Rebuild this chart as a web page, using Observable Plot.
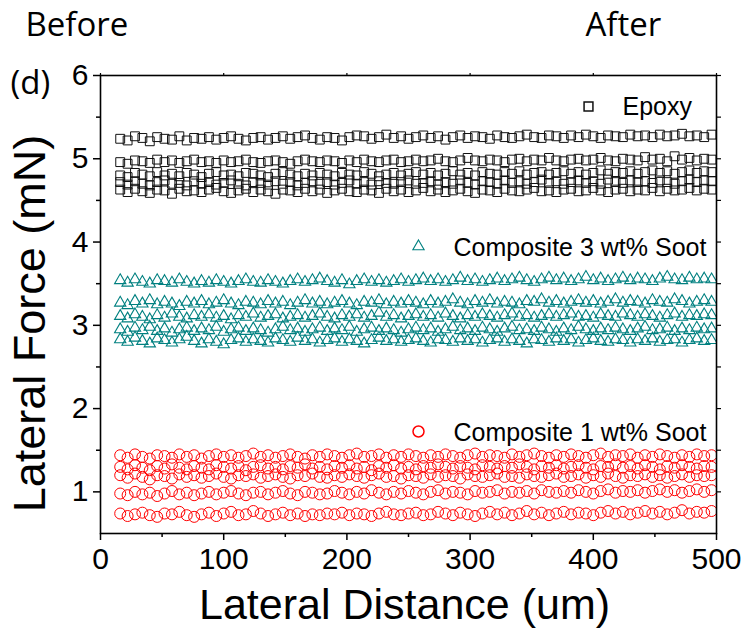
<!DOCTYPE html>
<html>
<head>
<meta charset="utf-8">
<script src="https://cdn.jsdelivr.net/npm/d3@7"></script>
<script src="https://cdn.jsdelivr.net/npm/@observablehq/plot@0.6"></script>
<style>
  html, body { margin: 0; padding: 0; background: white; }
</style>
</head>
<body>
<div id="chart"></div>
<script>
// Lateral distance sampling positions (um)
const distance = [
16,22,28,34,40,46,52,58,64,70,
76,82,88,94,100,106,112,118,124,130,
136,142,148,154,160,166,172,178,184,190,
196,202,208,214,220,226,232,238,244,250,
256,262,268,274,280,286,292,298,304,310,
316,322,328,334,340,346,352,358,364,370,
376,382,388,394,400,406,412,418,424,430,
436,442,448,454,460,466,472,478,484,490,
496];

// Epoxy scratch passes (mN)
const epoxy1 = [
5.24,5.22,5.27,5.25,5.21,5.26,5.24,5.23,5.27,5.22,
5.25,5.24,5.26,5.23,5.25,5.27,5.24,5.22,5.25,5.26,
5.23,5.25,5.27,5.24,5.26,5.28,5.25,5.23,5.26,5.25,
5.22,5.26,5.28,5.27,5.24,5.26,5.29,5.25,5.27,5.24,
5.26,5.28,5.25,5.27,5.23,5.26,5.28,5.25,5.27,5.26,
5.24,5.28,5.26,5.25,5.27,5.29,5.26,5.25,5.28,5.27,
5.25,5.28,5.26,5.29,5.27,5.25,5.28,5.27,5.26,5.29,
5.27,5.28,5.26,5.29,5.27,5.28,5.30,5.27,5.28,5.26,
5.29];
const epoxy2 = [
4.96,4.94,4.98,4.97,4.95,4.99,4.96,4.98,4.95,4.97,
4.99,4.96,4.97,4.95,4.98,4.96,4.97,4.99,4.96,4.95,
4.97,4.98,4.96,4.94,4.97,4.99,4.97,4.96,4.98,4.97,
4.95,4.98,4.96,4.99,4.97,4.96,4.98,4.99,4.96,4.97,
4.99,4.97,4.98,5.00,4.97,4.96,4.98,5.01,4.98,4.97,
4.99,4.98,4.96,4.99,5.00,4.97,4.99,4.98,5.01,4.98,
4.97,4.99,5.00,4.98,4.99,5.01,4.98,4.97,5.00,4.99,
4.98,5.02,4.99,5.00,4.97,5.03,4.99,5.01,4.98,5.00,
4.99];
const epoxy3 = [
4.80,4.78,4.83,4.81,4.79,4.84,4.80,4.82,4.79,4.83,
4.81,4.78,4.82,4.84,4.80,4.81,4.79,4.83,4.82,4.80,
4.78,4.82,4.84,4.81,4.79,4.82,4.80,4.83,4.81,4.79,
4.83,4.81,4.80,4.84,4.82,4.79,4.81,4.83,4.80,4.82,
4.84,4.81,4.83,4.80,4.82,4.85,4.81,4.83,4.80,4.84,
4.82,4.81,4.84,4.82,4.85,4.81,4.83,4.84,4.81,4.83,
4.85,4.82,4.84,4.81,4.83,4.86,4.82,4.84,4.83,4.85,
4.82,4.84,4.86,4.83,4.85,4.82,4.84,4.86,4.83,4.85,
4.84];
const epoxy4 = [
4.72,4.69,4.73,4.70,4.68,4.72,4.74,4.70,4.71,4.68,
4.73,4.70,4.72,4.69,4.71,4.74,4.70,4.68,4.72,4.71,
4.69,4.73,4.70,4.72,4.68,4.71,4.73,4.70,4.72,4.69,
4.71,4.74,4.70,4.72,4.69,4.73,4.71,4.70,4.72,4.74,
4.70,4.71,4.73,4.69,4.72,4.70,4.74,4.71,4.69,4.73,
4.72,4.70,4.74,4.71,4.73,4.70,4.72,4.75,4.71,4.73,
4.70,4.72,4.74,4.71,4.73,4.70,4.75,4.72,4.71,4.74,
4.72,4.73,4.71,4.74,4.72,4.70,4.73,4.75,4.72,4.74,
4.73];
const epoxy5 = [
4.63,4.60,4.64,4.61,4.59,4.63,4.62,4.58,4.64,4.61,
4.62,4.60,4.63,4.65,4.61,4.59,4.62,4.64,4.60,4.63,
4.61,4.58,4.63,4.62,4.60,4.64,4.61,4.63,4.59,4.62,
4.64,4.61,4.60,4.63,4.62,4.59,4.64,4.61,4.63,4.60,
4.62,4.65,4.61,4.63,4.60,4.62,4.64,4.61,4.59,4.63,
4.62,4.60,4.64,4.62,4.61,4.63,4.65,4.61,4.62,4.60,
4.63,4.64,4.61,4.62,4.65,4.62,4.60,4.63,4.64,4.61,
4.63,4.62,4.65,4.61,4.64,4.62,4.63,4.65,4.62,4.64,
4.63];

// Composite 3 wt% soot passes (mN)
const soot3a = [
3.54,3.51,3.55,3.52,3.50,3.54,3.53,3.51,3.55,3.52,
3.50,3.53,3.51,3.54,3.52,3.50,3.53,3.55,3.52,3.51,
3.54,3.52,3.50,3.53,3.55,3.52,3.54,3.56,3.53,3.51,
3.54,3.49,3.53,3.55,3.52,3.54,3.51,3.53,3.55,3.52,
3.54,3.56,3.53,3.55,3.52,3.54,3.57,3.53,3.55,3.52,
3.54,3.56,3.53,3.55,3.57,3.54,3.52,3.55,3.57,3.54,
3.56,3.53,3.55,3.58,3.54,3.56,3.53,3.55,3.57,3.54,
3.56,3.55,3.53,3.56,3.58,3.55,3.54,3.57,3.55,3.56,
3.55];
const soot3b = [
3.27,3.24,3.29,3.26,3.30,3.25,3.28,3.26,3.23,3.28,
3.26,3.29,3.25,3.27,3.30,3.26,3.24,3.28,3.27,3.25,
3.29,3.26,3.28,3.24,3.27,3.30,3.26,3.28,3.25,3.27,
3.29,3.26,3.24,3.28,3.27,3.30,3.25,3.28,3.26,3.29,
3.27,3.25,3.29,3.26,3.28,3.31,3.27,3.25,3.29,3.27,
3.30,3.26,3.28,3.27,3.25,3.29,3.28,3.31,3.27,3.29,
3.26,3.28,3.30,3.27,3.29,3.26,3.28,3.31,3.27,3.29,
3.28,3.26,3.30,3.28,3.27,3.31,3.29,3.26,3.28,3.30,
3.28];
const soot3c = [
3.11,3.08,3.13,3.10,3.07,3.12,3.09,3.14,3.10,3.08,
3.12,3.10,3.13,3.09,3.11,3.07,3.12,3.10,3.14,3.09,
3.11,3.13,3.08,3.10,3.12,3.09,3.11,3.14,3.10,3.08,
3.12,3.10,3.13,3.09,3.11,3.15,3.10,3.12,3.08,3.11,
3.13,3.10,3.12,3.09,3.14,3.11,3.08,3.12,3.10,3.13,
3.11,3.09,3.12,3.14,3.10,3.12,3.09,3.11,3.13,3.10,
3.12,3.14,3.10,3.11,3.09,3.13,3.11,3.10,3.14,3.12,
3.10,3.13,3.11,3.09,3.12,3.14,3.10,3.12,3.11,3.13,
3.12];
const soot3d = [
2.95,2.92,2.97,2.94,2.98,2.93,2.96,2.91,2.95,2.97,
2.93,2.96,2.94,2.98,2.92,2.95,2.97,2.93,2.96,2.94,
2.91,2.95,2.98,2.94,2.96,2.92,2.95,2.97,2.93,2.96,
2.94,2.98,2.92,2.95,2.97,2.93,2.96,2.94,2.91,2.95,
2.97,2.94,2.96,2.92,2.95,2.98,2.94,2.96,2.93,2.97,
2.95,2.92,2.96,2.98,2.94,2.95,2.93,2.97,2.95,2.92,
2.96,2.94,2.98,2.95,2.93,2.96,2.94,2.97,2.95,2.93,
2.96,2.98,2.94,2.95,2.97,2.93,2.96,2.94,2.97,2.95,
2.96];
const soot3e = [
2.83,2.80,2.85,2.81,2.78,2.84,2.82,2.79,2.83,2.86,
2.81,2.78,2.83,2.80,2.77,2.82,2.84,2.80,2.83,2.81,
2.79,2.84,2.82,2.80,2.85,2.81,2.83,2.79,2.82,2.84,
2.80,2.83,2.81,2.78,2.82,2.85,2.81,2.83,2.80,2.82,
2.84,2.81,2.79,2.83,2.82,2.80,2.84,2.81,2.83,2.79,
2.82,2.84,2.80,2.83,2.81,2.78,2.83,2.82,2.80,2.84,
2.81,2.83,2.79,2.82,2.84,2.81,2.80,2.83,2.82,2.79,
2.83,2.81,2.84,2.80,2.82,2.83,2.79,2.82,2.84,2.81,
2.82];

// Composite 1 wt% soot passes (mN)
const soot1a = [
1.44,1.41,1.45,1.42,1.40,1.44,1.43,1.41,1.45,1.42,
1.44,1.40,1.43,1.45,1.42,1.44,1.41,1.43,1.46,1.42,
1.44,1.41,1.43,1.45,1.42,1.40,1.44,1.42,1.45,1.43,
1.41,1.44,1.46,1.42,1.43,1.45,1.41,1.44,1.42,1.45,
1.43,1.41,1.44,1.42,1.45,1.43,1.41,1.44,1.46,1.42,
1.44,1.43,1.41,1.45,1.42,1.44,1.46,1.43,1.41,1.44,
1.42,1.45,1.43,1.41,1.44,1.46,1.42,1.44,1.43,1.45,
1.41,1.44,1.42,1.45,1.43,1.41,1.44,1.42,1.45,1.43,
1.44];
const soot1b = [
1.30,1.27,1.32,1.29,1.26,1.31,1.28,1.33,1.29,1.27,
1.31,1.29,1.27,1.32,1.30,1.28,1.31,1.26,1.30,1.32,
1.28,1.30,1.27,1.31,1.29,1.33,1.28,1.30,1.27,1.31,
1.29,1.32,1.28,1.30,1.26,1.31,1.29,1.32,1.28,1.30,
1.27,1.31,1.29,1.33,1.30,1.28,1.31,1.29,1.27,1.32,
1.30,1.28,1.31,1.29,1.33,1.30,1.27,1.31,1.29,1.32,
1.28,1.30,1.32,1.29,1.27,1.31,1.30,1.33,1.29,1.31,
1.28,1.32,1.30,1.27,1.31,1.29,1.32,1.30,1.28,1.31,
1.30];
const soot1c = [
1.20,1.17,1.22,1.18,1.15,1.20,1.19,1.16,1.21,1.18,
1.20,1.17,1.19,1.22,1.18,1.16,1.20,1.19,1.21,1.17,
1.19,1.21,1.18,1.16,1.20,1.19,1.22,1.18,1.17,1.20,
1.18,1.21,1.19,1.17,1.20,1.22,1.18,1.19,1.16,1.20,
1.19,1.17,1.21,1.18,1.20,1.19,1.16,1.21,1.19,1.18,
1.20,1.22,1.18,1.19,1.17,1.21,1.19,1.18,1.20,1.22,
1.18,1.19,1.21,1.17,1.20,1.18,1.22,1.19,1.17,1.20,
1.19,1.21,1.18,1.20,1.17,1.19,1.21,1.18,1.20,1.19,
1.20];
const soot1d = [
0.98,0.96,1.00,0.97,0.99,0.95,0.98,1.01,0.97,0.99,
0.96,0.98,1.00,0.97,0.99,1.01,0.98,0.96,0.99,1.00,
0.97,0.99,1.01,0.98,0.96,1.00,0.99,0.97,0.98,1.01,
0.99,0.97,1.00,0.98,1.02,0.99,0.97,1.00,0.98,1.01,
0.99,0.97,1.00,1.02,0.98,1.00,0.99,0.97,1.01,0.99,
1.00,1.02,0.98,1.00,0.99,1.01,0.98,1.02,1.00,0.99,
1.01,0.99,1.02,1.00,0.98,1.01,1.03,0.99,1.01,1.00,
1.02,0.99,1.01,1.03,1.00,1.02,0.99,1.01,1.03,1.00,
1.02];
const soot1e = [
0.74,0.71,0.73,0.75,0.72,0.70,0.74,0.73,0.76,0.72,
0.70,0.73,0.75,0.71,0.74,0.76,0.72,0.73,0.77,0.74,
0.71,0.73,0.75,0.72,0.74,0.71,0.73,0.72,0.74,0.73,
0.75,0.72,0.74,0.73,0.71,0.74,0.76,0.73,0.72,0.74,
0.75,0.72,0.73,0.76,0.74,0.72,0.75,0.73,0.71,0.74,
0.76,0.73,0.75,0.72,0.74,0.77,0.73,0.75,0.72,0.74,
0.76,0.73,0.75,0.74,0.72,0.75,0.77,0.74,0.76,0.73,
0.75,0.77,0.74,0.76,0.73,0.75,0.78,0.74,0.76,0.75,
0.77];

// Tick values and labels
const xMajor = [0, 100, 200, 300, 400, 500];
const xMinor = [50, 150, 250, 350, 450];
const yMajor = [1, 2, 3, 4, 5, 6];
const yMinor = [1.5, 2.5, 3.5, 4.5, 5.5];
const legendLabels = ["Epoxy", "Composite 3 wt% Soot", "Composite 1 wt% Soot"];

function toPoints(passes) {
  const out = [];
  passes.forEach((vals, p) => vals.forEach((v, i) => out.push({x: distance[i], y: v, pass: p})));
  return out;
}
const epoxy = toPoints([epoxy1, epoxy2, epoxy3, epoxy4, epoxy5]);
const soot3 = toPoints([soot3a, soot3b, soot3c, soot3d, soot3e]);
const soot1 = toPoints([soot1a, soot1b, soot1c, soot1d, soot1e]);

const teal = "#008080";
const red = "#ff0000";
const narrow = "'Liberation Sans Narrow', 'Liberation Sans', Arial, sans-serif";
const sans = "'Liberation Sans', Arial, sans-serif";
const calibri = "'Open Sans', 'Noto Sans', sans-serif";
const one = [0];
const T = {textAnchor: "start", lineAnchor: "middle", fill: "black"};

const chart = Plot.plot({
  width: 746,
  height: 632,
  marginLeft: 100,
  marginRight: 30,
  marginTop: 75,
  marginBottom: 99,
  style: {background: "white", color: "black", fontFamily: narrow, overflow: "visible"},
  x: {domain: [0, 500], label: null},
  y: {domain: [0.5, 6], label: null},
  marks: [
    Plot.dot(epoxy, {x: "x", y: "y", symbol: "square", r: 5, stroke: "#111", strokeWidth: 1, fill: "none", clip: true}),
    Plot.dot(soot3, {x: "x", y: "y", symbol: "triangle", r: 4.2, stroke: teal, strokeWidth: 1.1, fill: "none", clip: true}),
    Plot.dot(soot1, {x: "x", y: "y", symbol: "circle", r: 5.5, stroke: red, strokeWidth: 1, fill: "none", clip: true}),
    Plot.frame({stroke: "black", strokeWidth: 1.6}),
    // bottom axis
    Plot.axisX({ticks: xMajor, tickSize: 7, tickPadding: 7, tickFormat: d => String(d), fontSize: 30, fontFamily: narrow, strokeWidth: 1.5, label: null}),
    Plot.axisX({ticks: xMinor, tickSize: 4, fill: "none", strokeWidth: 1.5, label: null}),
    // top axis (no labels)
    Plot.axisX({anchor: "top", ticks: xMajor, tickSize: 3, fill: "none", strokeWidth: 1.2, label: null}),
    // left axis
    Plot.axisY({ticks: yMajor, tickSize: 7, tickPadding: 5, tickFormat: d => String(d), fontSize: 30, fontFamily: narrow, strokeWidth: 1.5, label: null}),
    Plot.axisY({ticks: yMinor, tickSize: 4, fill: "none", strokeWidth: 1.5, label: null}),
    // right axis (no labels)
    Plot.axisY({anchor: "right", ticks: yMajor.concat(yMinor), tickSize: 4, fill: "none", strokeWidth: 1.2, label: null}),
    // axis titles
    Plot.text(one, {frameAnchor: "bottom", text: ["Lateral Distance (um)"], textAnchor: "middle", lineAnchor: "middle", dy: 72, dx: -4, fontSize: 43, fontFamily: sans, fill: "black"}),
    Plot.text(one, {frameAnchor: "left", text: ["Lateral Force (mN)"], textAnchor: "middle", lineAnchor: "middle", rotate: -90, dx: -70, dy: 19, fontSize: 45, fontFamily: sans, fill: "black"}),
    // legend
    Plot.dot(one, {frameAnchor: "top-right", dx: -128, dy: 31, symbol: "square", r: 5, stroke: "#111", fill: "none"}),
    Plot.text(one, {...T, frameAnchor: "top-right", dx: -94, dy: 31, text: [legendLabels[0]], fontSize: 25, fontFamily: sans}),
    Plot.dot(one, {frameAnchor: "top-right", dx: -298, dy: 171, symbol: "triangle", r: 4.2, stroke: teal, strokeWidth: 1.1, fill: "none"}),
    Plot.text(one, {...T, frameAnchor: "top-right", dx: -263, dy: 172, text: [legendLabels[1]], fontSize: 25, fontFamily: sans}),
    Plot.dot(one, {frameAnchor: "top-right", dx: -298, dy: 356, symbol: "circle", r: 5.5, stroke: red, fill: "none"}),
    Plot.text(one, {...T, frameAnchor: "top-right", dx: -263, dy: 357, text: [legendLabels[2]], fontSize: 25, fontFamily: sans}),
    // panel annotations
    Plot.text(one, {...T, frameAnchor: "top-left", dx: -75, dy: -50, text: ["Before"], fontSize: 33, fontFamily: calibri}),
    Plot.text(one, {...T, frameAnchor: "top-left", dx: 485, dy: -50, text: ["After"], fontSize: 33, fontFamily: calibri}),
    Plot.text(one, {...T, frameAnchor: "top-left", dx: -90, dy: 8, text: ["(d)"], fontSize: 33, fontFamily: calibri})
  ]
});
document.getElementById("chart").append(chart);
</script>
</body>
</html>
